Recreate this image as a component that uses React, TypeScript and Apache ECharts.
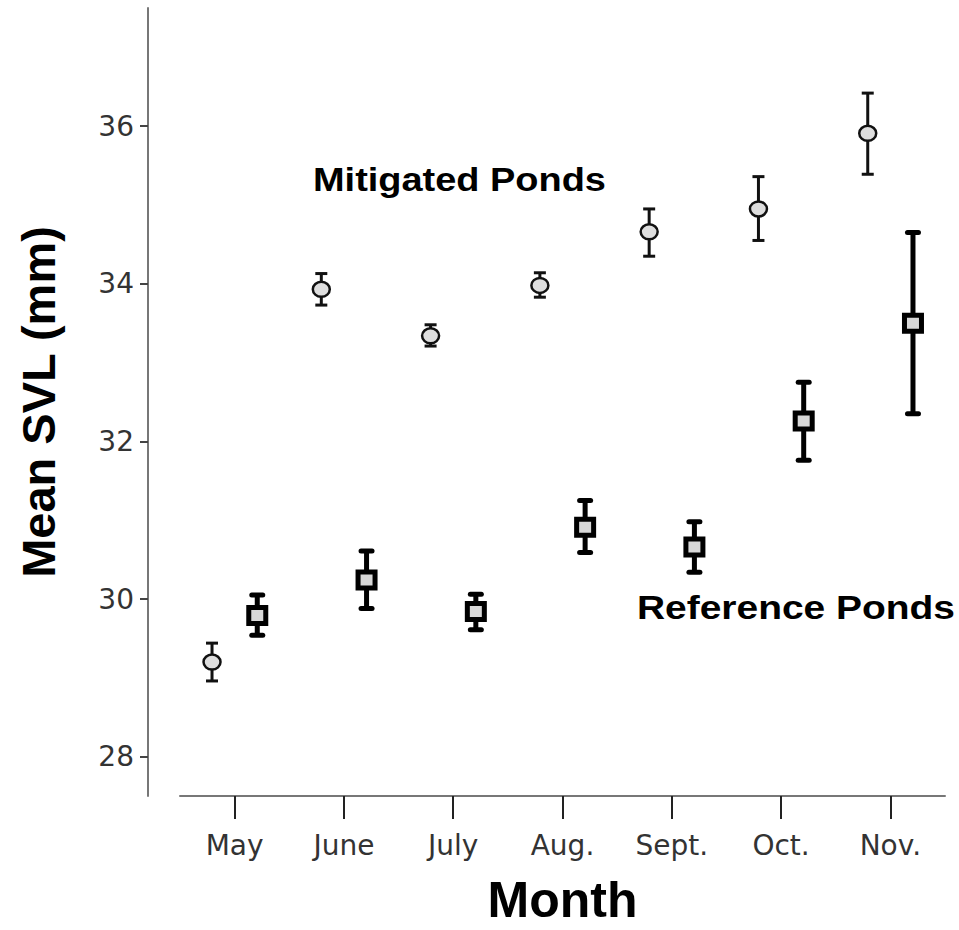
import React, { useEffect, useRef } from "react";
import * as echarts from "echarts";

const months = ["May", "June", "July", "Aug.", "Sept.", "Oct.", "Nov."];
const yTicks = [28, 30, 32, 34, 36];

const mitigatedMean = [29.2, 33.93, 33.34, 33.98, 34.66, 34.95, 35.91];
const mitigatedLow = [28.96, 33.73, 33.21, 33.83, 34.35, 34.55, 35.39];
const mitigatedHigh = [29.44, 34.13, 33.48, 34.14, 34.95, 35.36, 36.42];

const referenceMean = [29.79, 30.24, 29.84, 30.91, 30.66, 32.26, 33.5];
const referenceLow = [29.54, 29.88, 29.61, 30.59, 30.34, 31.76, 32.35];
const referenceHigh = [30.05, 30.61, 30.06, 31.25, 30.98, 32.75, 34.65];

const FONT = "'Liberation Sans', Arial, sans-serif";
const TICKFONT = "'DejaVu Sans', 'Liberation Sans', sans-serif";

function makeRender(kind: "mit" | "ref") {
  return (params: any, api: any) => {
    const idx = api.value(0);
    const p = api.coord([idx, api.value(1)]);
    const pl = api.coord([idx, api.value(2)]);
    const ph = api.coord([idx, api.value(3)]);
    const bw = api.size([1, 0])[0];
    const sign = kind === "mit" ? -1 : 1;
    const x = p[0] + sign * 0.207 * bw;
    const children: any[] = [];
    if (kind === "mit") {
      const lw = 3;
      const cw = 6;
      children.push(
        { type: "line", shape: { x1: x, y1: ph[1], x2: x, y2: pl[1] }, style: { stroke: "#111", lineWidth: lw } },
        { type: "line", shape: { x1: x - cw, y1: ph[1], x2: x + cw, y2: ph[1] }, style: { stroke: "#111", lineWidth: lw } },
        { type: "line", shape: { x1: x - cw, y1: pl[1], x2: x + cw, y2: pl[1] }, style: { stroke: "#111", lineWidth: lw } },
        { type: "ellipse", shape: { cx: x, cy: p[1], rx: 8.5, ry: 7.5 }, style: { fill: "#dedede", stroke: "#111", lineWidth: 2.5 } }
      );
    } else {
      const lw = 5;
      const cw = 5.5;
      children.push(
        { type: "line", shape: { x1: x, y1: ph[1], x2: x, y2: pl[1] }, style: { stroke: "#000", lineWidth: lw } },
        { type: "line", shape: { x1: x - cw, y1: ph[1], x2: x + cw, y2: ph[1] }, style: { stroke: "#000", lineWidth: lw, lineCap: "round" } },
        { type: "line", shape: { x1: x - cw, y1: pl[1], x2: x + cw, y2: pl[1] }, style: { stroke: "#000", lineWidth: lw, lineCap: "round" } },
        { type: "rect", shape: { x: x - 8.5, y: p[1] - 8, width: 17, height: 16 }, style: { fill: "#d8d8d8", stroke: "#000", lineWidth: 5 } }
      );
    }
    return { type: "group", children };
  };
}

export default function App() {
  const ref = useRef<HTMLDivElement>(null);
  useEffect(() => {
    if (!ref.current) return;
    const chart = echarts.init(ref.current, null, { renderer: "svg" });
    const mitData = months.map((_, i) => [i, mitigatedMean[i], mitigatedLow[i], mitigatedHigh[i]]);
    const refData = months.map((_, i) => [i, referenceMean[i], referenceLow[i], referenceHigh[i]]);
    chart.setOption({
      animation: false,
      backgroundColor: "#fff",
      grid: { left: 180, right: 14, top: 8, bottom: 126, containLabel: false },
      xAxis: {
        type: "category",
        data: months,
        boundaryGap: true,
        axisLine: { show: true, lineStyle: { color: "#777", width: 2 } },
        axisTick: { show: true, alignWithLabel: true, length: 23, lineStyle: { color: "#222", width: 2 } },
        axisLabel: { show: true, margin: 35, fontSize: 28, color: "#333", fontFamily: TICKFONT },
        name: "Month",
        nameLocation: "middle",
        nameGap: 79,
        nameTextStyle: { fontSize: 50, fontWeight: "bold", color: "#000", fontFamily: FONT },
        splitLine: { show: false },
      },
      yAxis: {
        type: "value",
        min: 27.5,
        max: 37.5,
        offset: 32,
        axisLine: { show: true, lineStyle: { color: "#777", width: 2 } },
        axisTick: { show: true, length: 8, customValues: yTicks, lineStyle: { color: "#444", width: 2 } },
        axisLabel: { customValues: yTicks, margin: 14, fontSize: 28, color: "#333", fontFamily: TICKFONT },
        splitLine: { show: false },
        name: "Mean SVL (mm)",
        nameLocation: "middle",
        nameGap: 86,
        nameRotate: 90,
        nameTextStyle: { fontSize: 47, fontWeight: "bold", color: "#000", fontFamily: FONT },
      },
      graphic: [
        {
          type: "text",
          x: 313,
          y: 180,
          scaleX: 1.15,
          style: { text: "Mitigated Ponds", font: `bold 33px ${FONT}`, fill: "#000", textVerticalAlign: "middle" },
        },
        {
          type: "text",
          x: 637,
          y: 608,
          scaleX: 1.18,
          style: { text: "Reference Ponds", font: `bold 33px ${FONT}`, fill: "#000", textVerticalAlign: "middle" },
        },
      ],
      series: [
        { type: "custom", name: "Mitigated Ponds", renderItem: makeRender("mit"), data: mitData, encode: { x: 0, y: [1, 2, 3] }, clip: false },
        { type: "custom", name: "Reference Ponds", renderItem: makeRender("ref"), data: refData, encode: { x: 0, y: [1, 2, 3] }, clip: false },
      ],
    });
    return () => chart.dispose();
  }, []);
  return <div ref={ref} style={{ width: 959, height: 930, position: "absolute", left: 0, top: 0 }} />;
}
